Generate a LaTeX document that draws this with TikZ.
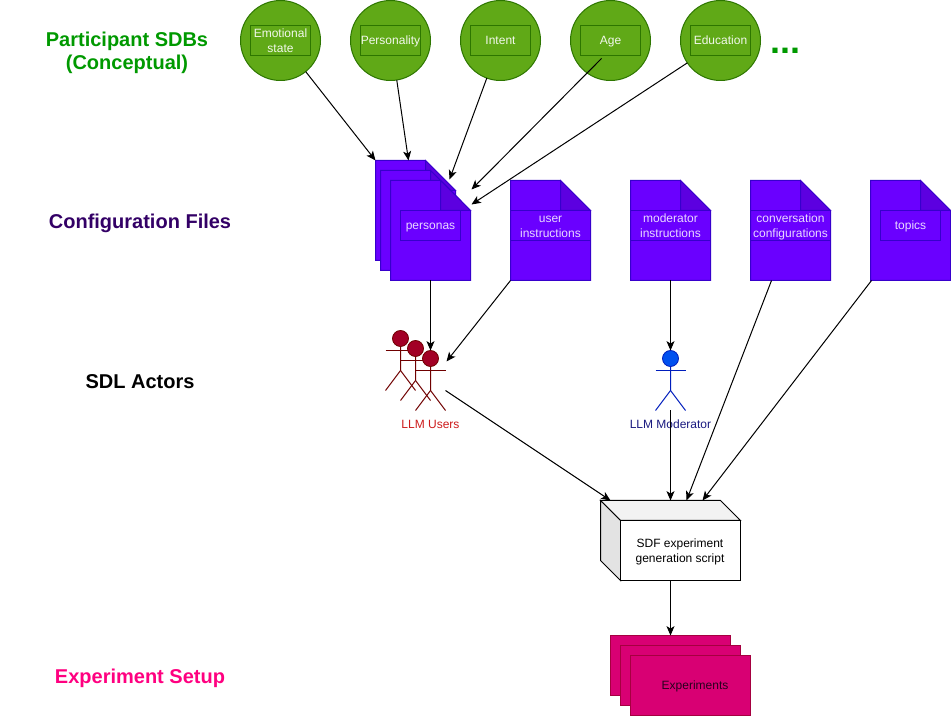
\documentclass[tikz,border=0pt]{standalone}
\usepackage{fontspec}
\setmainfont{Liberation Sans}
\usetikzlibrary{arrows.meta,calc}
\definecolor{grn}{HTML}{60A917}
\definecolor{grnd}{HTML}{2D7600}
\definecolor{vio}{HTML}{6A00FF}
\definecolor{viod}{HTML}{3700CC}
\definecolor{viof}{HTML}{5C00E0}
\definecolor{pnk}{HTML}{D80073}
\definecolor{pnkd}{HTML}{A50040}
\definecolor{redline}{HTML}{6F0000}
\definecolor{redfill}{HTML}{A20025}
\definecolor{blueline}{HTML}{001DBC}
\definecolor{bluefill}{HTML}{0050EF}
\tikzset{
 x=0.75pt,y=-0.75pt,
 every node/.style={inner sep=0pt,outer sep=0pt,text height=6.5pt,text depth=0pt,font=\fontsize{9}{11.25}\selectfont},
 heading/.style={text height=10.74pt,text depth=0pt,font=\fontsize{15}{17.25}\selectfont\bfseries},
 sdb/.style={circle,draw=grnd,fill=grn,line width=.75pt,minimum size=60pt},
 sdblabel/.style={rectangle,draw=grnd,line width=.75pt,minimum width=45pt,minimum height=22.5pt,text=white!92!grn},
 docbody/.style={rectangle,minimum width=60pt,minimum height=75pt},
 docline/.style={draw=viod,line width=.75pt,line join=miter},
 doclabel/.style={rectangle,draw=viod,line width=.75pt,minimum height=22.5pt,text=white!85!vio},
 link/.style={draw=black,line width=.75pt,-{Stealth[length=7pt,width=6pt,inset=1.8pt]}},
 exp/.style={rectangle,draw=pnkd,fill=pnk,line width=.75pt,minimum width=90pt,minimum height=45pt},
}
\newcommand{\twolines}[2]{\raisebox{-0.5pt}{\begin{tabular}{@{}c@{}}#1\\#2\end{tabular}}}
\newcommand{\docsheet}[2]{% name, top-left
 \node[docbody,anchor=north west] (#1) at (#2) {};
 \fill[vio,docline] (#1.north west) -- ++(50,0) -- ++(30,30) -- (#1.south east) -- (#1.south west) -- cycle;
 \fill[viof,docline] ($(#1.north west)+(50,0)$) -- ++(30,30) -- ++(-30,0) -- cycle;
}
\newcommand{\stickman}[3]{% name, head centre, colours prefix
 \node[circle,draw=#3line,fill=#3fill,line width=.6pt,minimum size=12pt] (#1) at (#2) {};
 \draw[#3line,line width=.75pt] (#1.south) -- ++(0,24) coordinate (#1hip) -- ++(-15,20);
 \draw[#3line,line width=.75pt] (#1hip) -- ++(15,20);
 \draw[#3line,line width=.75pt] ($(#1.south)+(-15,4)$) -- ++(30,0);
}
\begin{document}
\begin{tikzpicture}
\useasboundingbox (-0.5,-0.5) rectangle (950.5,715.5);
% headings
\node[heading,text={rgb,255:red,0;green,153;blue,0}] (hSDB) at (126.5,50.5) {\begin{tabular}{@{}c@{}}Participant SDBs\\(Conceptual)\end{tabular}};
\node[heading,text={rgb,255:red,51;green,0;blue,102}] (hCfg) at (139.5,221) {Configuration Files};
\node[heading] (hAct) at (139.5,381) {SDL Actors};
\node[heading,text={rgb,255:red,255;green,0;blue,128}] (hExp) at (139.5,676) {Experiment Setup};
% SDBs
\node[sdb] (emo) at (280,40) {};
\node[sdb] (per) at (390,40) {};
\node[sdb] (int) at (500,40) {};
\node[sdb] (age) at (610,40) {};
\node[sdb] (edu) at (720,40) {};
\node[sdblabel] at (emo) {\twolines{Emotional}{state}};
\node[sdblabel] at (per) {Personality};
\node[sdblabel] at (int) {Intent};
\node[sdblabel] at (age) {Age};
\node[sdblabel] at (edu) {Education};
\node[anchor=base,font=\fontsize{27}{27}\selectfont\bfseries,text={rgb,255:red,0;green,153;blue,0}] (more) at (785,53) {...};
% documents
\docsheet{docA}{375,160}
\docsheet{docB}{380,170}
\docsheet{docC}{390,180}
\docsheet{docU}{510,180}
\docsheet{docM}{630,180}
\docsheet{docO}{750,180}
\docsheet{docT}{870,180}
\node[doclabel,minimum width=45pt] at (430,225) {personas};
\node[doclabel,minimum width=60pt] at (550,225) {\twolines{user}{instructions}};
\node[doclabel,minimum width=60pt] at (670,225) {\twolines{moderator}{instructions}};
\node[doclabel,minimum width=60pt] at (790,225) {\twolines{conversation}{configurations}};
\node[doclabel,minimum width=45pt] at (910,225) {topics};
% actors
\stickman{userA}{400,338}{red}
\stickman{userB}{415,348}{red}
\stickman{userC}{430,358}{red}
\stickman{mod}{670,358}{blue}
\node[text={rgb,255:red,204;green,26;blue,26}] (lblU) at (430,424) {LLM Users};
\node[text={rgb,255:red,26;green,26;blue,128}] (lblM) at (670,424) {LLM Moderator};
% script
\coordinate (bTL) at (600,500);
\coordinate (bTR) at (720,500);
\coordinate (fTL) at (620,520);
\coordinate (fTR) at (740,520);
\coordinate (fBL) at (620,580);
\coordinate (bBL) at (600,560);
\fill[black!5,draw=black,line width=.75pt] (bTL) -- (bTR) -- (fTR) -- (fTL) -- cycle;
\fill[black!11,draw=black,line width=.75pt] (bTL) -- (fTL) -- (fBL) -- (bBL) -- cycle;
\node[rectangle,draw=black,fill=white,line width=.75pt,minimum width=90pt,minimum height=45pt,anchor=north west] (script) at (fTL) {};
\node at (679.5,550) {\twolines{SDF experiment}{generation script}};
% experiments
\node[exp,anchor=north west] (e1) at (610,635) {};
\node[exp,anchor=north west] (e2) at (620,645) {};
\node[exp,anchor=north west] (e3) at (630,655) {};
\node[text={rgb,255:red,40;green,0;blue,30}] (lblE) at (694.5,685) {Experiments};
% connector ends
\coordinate (sAge) at (601,58);
\coordinate (tPer) at (408,160);
\coordinate (tInt) at (449,179);
\coordinate (tAge) at (471,189);
\coordinate (tEdu) at (471,204);
\coordinate (sCfg) at (430,280);
\coordinate (tCfg) at (430,350);
\coordinate (tUsr) at (446,361);
\coordinate (sUsers) at (445,390);
\coordinate (tUsers) at (610,500);
\coordinate (sMod) at (670,280);
\coordinate (tMod) at (670,350);
\coordinate (sModA) at (670,410);
\coordinate (tModA) at (670,500);
\coordinate (sConv) at (771,280);
\coordinate (tConv) at (686,500);
\coordinate (sTop) at (871,280);
\coordinate (tTop) at (702,500);
\coordinate (sScr) at (670,580);
\coordinate (tScr) at (670,635);
% connectors
\draw[link] (emo.-51) -- (docA.north west);
\draw[link] (per.-81) -- (tPer);
\draw[link] (int.-110) -- (tInt);
\draw[link] (sAge) -- (tAge);
\draw[link] (edu.-146) -- (tEdu);
\draw[link] (sCfg) -- (tCfg);
\draw[link] (docU.south west) -- (tUsr);
\draw[link] (sMod) -- (tMod);
\draw[link] (sConv) -- (tConv);
\draw[link] (sTop) -- (tTop);
\draw[link] (sUsers) -- (tUsers);
\draw[link] (sModA) -- (tModA);
\draw[link] (sScr) -- (tScr);
\end{tikzpicture}
\end{document}
